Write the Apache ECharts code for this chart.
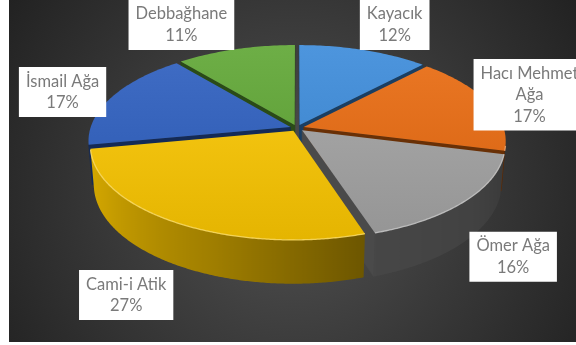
<!DOCTYPE html>
<html>
<head>
<meta charset="utf-8">
<script src="https://cdn.jsdelivr.net/npm/echarts@6/dist/echarts.min.js"></script>
<style>
  html, body { margin: 0; padding: 0; background: #ffffff; }
  #chart { width: 576px; height: 345px; }
</style>
</head>
<body>
<div id="chart"></div>
<script>
// Neighbourhood shares
const categories = ['Kayacık', 'Hacı Mehmet Ağa', 'Ömer Ağa', 'Cami-i Atik', 'İsmail Ağa', 'Debbağhane'];
const shares = [12, 17, 16, 27, 17, 11];
const sliceColors = ['#3a8ada', '#ea6a0e', '#a4a4a4', '#fdc800', '#2c5ec0', '#5ea632'];

// Label placement tweaks relative to the projected anchor (px)
const labelNudge = [[11, -2], [-22, 1], [-21, 26], [2, 32], [12, 5], [-36, -1]];

// 3D view settings
const VIEW = {
  cx: 297, cy: 128,     // screen position of the pie centre (top face)
  F: 200,               // pixels per pie radius at centre depth
  tilt: 27.5,           // camera elevation, degrees
  dist: 6.1,            // camera distance, in pie radii
  height: 0.225,        // pie thickness, in pie radii
  explode: 0.035,       // slice explosion, in pie radii
  labelRadius: 1.4
};
const LABEL_FONT = '16.5px Lato';
const LABEL_LINE = 21.5;
const LABEL_MAX_W = 115;

// side brightness by angle (degrees clockwise from the back)
const SIDE_SHADE = [[90, 0.32], [130, 0.40], [162, 0.43], [200, 0.63], [240, 0.8], [270, 0.88]];
const WALL_SHADE = 0.45;

const TAU = Math.PI * 2;
const total = shares.reduce((a, b) => a + b, 0);
const startOf = [];
shares.reduce((acc, v) => { startOf.push(acc); return acc + v; }, 0);

const sinT = Math.sin(VIEW.tilt * Math.PI / 180);
const cosT = Math.cos(VIEW.tilt * Math.PI / 180);
const cam = [0, VIEW.dist * sinT, VIEW.dist * cosT];

function project(p) {
  const up = p[1] * cosT - p[2] * sinT;
  const depth = VIEW.dist - (p[1] * sinT + p[2] * cosT);
  const k = VIEW.dist / depth;
  return [VIEW.cx + VIEW.F * p[0] * k, VIEW.cy - VIEW.F * up * k];
}
function facing(n, p) {
  return n[0] * (cam[0] - p[0]) + n[1] * (cam[1] - p[1]) + n[2] * (cam[2] - p[2]) > 0;
}

function hexToRgb(h) {
  const n = parseInt(h.slice(1), 16);
  return [(n >> 16) & 255, (n >> 8) & 255, n & 255];
}
function rgb(c) { return 'rgb(' + c.map(v => Math.max(0, Math.min(255, Math.round(v)))).join(',') + ')'; }
function scale(hex, f) { return rgb(hexToRgb(hex).map(v => v * f)); }
function lighten(hex, t) { return rgb(hexToRgb(hex).map(v => v + (255 - v) * t)); }

function sideFactor(deg) {
  if (deg <= SIDE_SHADE[0][0]) return SIDE_SHADE[0][1];
  for (let k = 1; k < SIDE_SHADE.length; k++) {
    const [d1, f1] = SIDE_SHADE[k];
    const [d0, f0] = SIDE_SHADE[k - 1];
    if (deg <= d1) return f0 + (f1 - f0) * (deg - d0) / (d1 - d0);
  }
  return SIDE_SHADE[SIDE_SHADE.length - 1][1];
}

// painter's order: far slices first
const midAngle = shares.map((v, i) => (startOf[i] + v / 2) / total * TAU);
const order = midAngle.map((m, i) => [i, -Math.cos(m)]).sort((a, b) => a[1] - b[1]).map(d => d[0]);
const depthRank = [];
order.forEach((idx, r) => { depthRank[idx] = r; });

// wrap label text to a maximum width
const measureCtx = document.createElement('canvas').getContext('2d');
measureCtx.font = LABEL_FONT;
function wrap(text) {
  const words = text.split(' ');
  const lines = [];
  let cur = '';
  words.forEach(w => {
    const test = cur ? cur + ' ' + w : w;
    if (cur && measureCtx.measureText(test).width > LABEL_MAX_W) { lines.push(cur); cur = w; }
    else cur = test;
  });
  if (cur) lines.push(cur);
  return lines.join('\n');
}

function renderItem(params, api) {
  const i = params.dataIndex;
  const value = api.value(0);
  const base = sliceColors[i];
  const a0 = startOf[i] / total * TAU;
  const a1 = a0 + value / total * TAU;
  const am = (a0 + a1) / 2;
  const e = VIEW.explode, H = VIEW.height;
  const ox = e * Math.sin(am), oz = -e * Math.cos(am);
  const pt = (a, r, y) => [ox + r * Math.sin(a), y, oz - r * Math.cos(a)];
  const zBase = depthRank[i] * 10;
  const children = [];

  // radial cut faces
  [[a0, -1], [a1, 1]].forEach(([a, sgn]) => {
    const n = [sgn * Math.cos(a), 0, sgn * Math.sin(a)];
    if (!facing(n, pt(a, 0.5, -H / 2))) return;
    children.push({
      type: 'polygon', z2: zBase + 1,
      shape: { points: [pt(a, 0, 0), pt(a, 1, 0), pt(a, 1, -H), pt(a, 0, -H)].map(project) },
      style: { fill: scale(base, WALL_SHADE), stroke: scale(base, WALL_SHADE), lineWidth: 0.5 }
    });
  });

  // outer curved side (front-facing part only)
  const steps = Math.max(2, Math.ceil((a1 - a0) / (Math.PI / 360)));
  const vis = [];
  for (let k = 0; k <= steps; k++) {
    const a = a0 + (a1 - a0) * k / steps;
    const n = [Math.sin(a), 0, -Math.cos(a)];
    if (facing(n, pt(a, 1, -H / 2))) vis.push(a);
  }
  if (vis.length >= 2) {
    const topPts = vis.map(a => project(pt(a, 1, 0)));
    const botPts = vis.map(a => project(pt(a, 1, -H)));
    const xs = topPts.map(p => p[0]);
    const minX = Math.min(...xs), maxX = Math.max(...xs);
    let fill = scale(base, sideFactor(vis[0] * 180 / Math.PI));
    if (maxX - minX > 1) {
      const stops = vis.map((a, k) => ({
        offset: (xs[k] - minX) / (maxX - minX),
        color: scale(base, sideFactor(a * 180 / Math.PI))
      })).sort((p, q) => p.offset - q.offset);
      fill = new echarts.graphic.LinearGradient(minX, 0, maxX, 0, stops, true);
    }
    children.push({
      type: 'polygon', z2: zBase + 2,
      shape: { points: topPts.concat(botPts.slice().reverse()) },
      style: { fill: fill }
    });
    children.push({
      type: 'polyline', z2: zBase + 4,
      shape: { points: topPts },
      style: { fill: null, stroke: lighten(base, 0.4), lineWidth: 1.3, opacity: 0.85 }
    });
  }

  // top face
  const arcSteps = Math.max(2, Math.ceil((a1 - a0) / (Math.PI / 180)));
  const topFace = [project(pt(a0, 0, 0))];
  for (let k = 0; k <= arcSteps; k++) {
    topFace.push(project(pt(a0 + (a1 - a0) * k / arcSteps, 1, 0)));
  }
  children.push({
    type: 'polygon', z2: zBase + 3,
    shape: { points: topFace },
    style: {
      fill: new echarts.graphic.LinearGradient(0, 40, 0, 245, [
        { offset: 0, color: lighten(base, 0.1) },
        { offset: 1, color: scale(base, 0.9) }
      ], true)
    }
  });

  // data label
  const anchor = project([VIEW.labelRadius * Math.sin(am), 0, -VIEW.labelRadius * Math.cos(am)]);
  const pct = Math.round(value / total * 100);
  children.push({
    type: 'text', z2: 1000,
    style: {
      text: wrap(categories[i]) + '\n' + pct + '%',
      x: anchor[0] + labelNudge[i][0],
      y: anchor[1] + labelNudge[i][1],
      align: 'center', verticalAlign: 'middle',
      font: LABEL_FONT, lineHeight: LABEL_LINE,
      fill: '#7a7a7a',
      backgroundColor: '#ffffff',
      padding: [4, 7, 3, 7]
    }
  });

  return { type: 'group', children: children };
}

const chart = echarts.init(document.getElementById('chart'), null, { renderer: 'canvas' });
chart.setOption({
  animation: false,
  graphic: [{
    type: 'rect', z: -10, silent: true,
    shape: { x: 9, y: 0, width: 567, height: 342 },
    style: {
      fill: new echarts.graphic.RadialGradient(0.5, 0.56, 1, [
        { offset: 0, color: '#525252' },
        { offset: 1, color: '#222222' }
      ])
    }
  }],
  series: [{
    type: 'custom',
    coordinateSystem: 'none',
    silent: true,
    renderItem: renderItem,
    data: shares.map((v, i) => ({ name: categories[i], value: [v] }))
  }]
});
</script>
</body>
</html>
